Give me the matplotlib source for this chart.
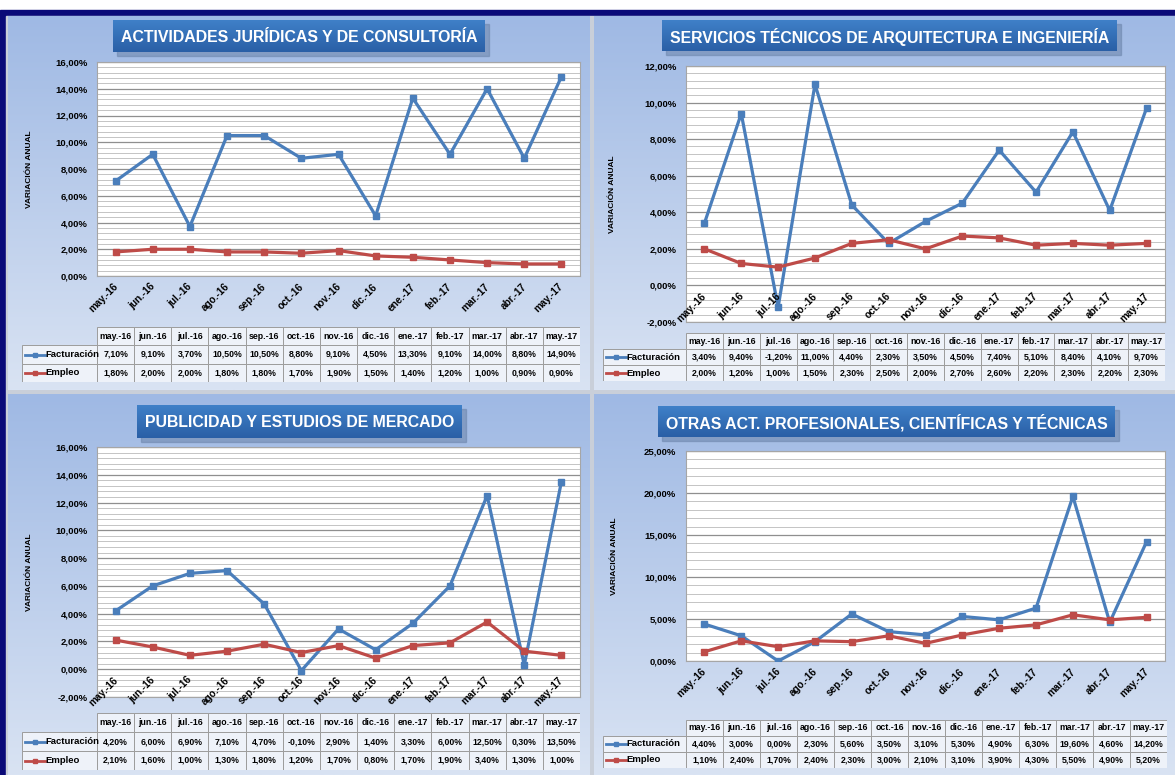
import numpy as np
import matplotlib
matplotlib.use('Agg')
import matplotlib.pyplot as plt
from matplotlib.patches import Rectangle
from matplotlib.lines import Line2D

W, H = 1175, 775

meses = ['may.-16', 'jun.-16', 'jul.-16', 'ago.-16', 'sep.-16', 'oct.-16', 'nov.-16',
         'dic.-16', 'ene.-17', 'feb.-17', 'mar.-17', 'abr.-17', 'may.-17']

jur_fact = [7.1, 9.1, 3.7, 10.5, 10.5, 8.8, 9.1, 4.5, 13.3, 9.1, 14.0, 8.8, 14.9]
jur_emp = [1.8, 2.0, 2.0, 1.8, 1.8, 1.7, 1.9, 1.5, 1.4, 1.2, 1.0, 0.9, 0.9]

arq_fact = [3.4, 9.4, -1.2, 11.0, 4.4, 2.3, 3.5, 4.5, 7.4, 5.1, 8.4, 4.1, 9.7]
arq_emp = [2.0, 1.2, 1.0, 1.5, 2.3, 2.5, 2.0, 2.7, 2.6, 2.2, 2.3, 2.2, 2.3]

pub_fact = [4.2, 6.0, 6.9, 7.1, 4.7, -0.1, 2.9, 1.4, 3.3, 6.0, 12.5, 0.3, 13.5]
pub_emp = [2.1, 1.6, 1.0, 1.3, 1.8, 1.2, 1.7, 0.8, 1.7, 1.9, 3.4, 1.3, 1.0]

otr_fact = [4.4, 3.0, 0.0, 2.3, 5.6, 3.5, 3.1, 5.3, 4.9, 6.3, 19.6, 4.6, 14.2]
otr_emp = [1.1, 2.4, 1.7, 2.4, 2.3, 3.0, 2.1, 3.1, 3.9, 4.3, 5.5, 4.9, 5.2]

titulos = ['ACTIVIDADES JURÍDICAS Y DE CONSULTORÍA',
           'SERVICIOS TÉCNICOS DE ARQUITECTURA E INGENIERÍA',
           'PUBLICIDAD Y ESTUDIOS DE MERCADO',
           'OTRAS ACT. PROFESIONALES, CIENTÍFICAS Y TÉCNICAS']

AZUL = '#4A7EBB'
ROJO = '#BE4B48'
plt.rcParams['font.family'] = ['Liberation Sans', 'DejaVu Sans']

# layout in pixels: panel, plot, table, title box, ylabel x, y range
paneles = [
    dict(panel=(8, 16, 590, 390), plot=(97, 62, 580, 276), tabla=(22, 327, 580, 382),
         caja=(113, 20, 485, 52), ylx=30, ylim=(0, 16), mayor=2, menor=0.4, tfs=11.4),
    dict(panel=(594, 16, 1175, 390), plot=(686, 66, 1165, 322), tabla=(603, 333, 1165, 381),
         caja=(662, 20, 1117, 51), ylx=613, ylim=(-2, 12), mayor=2, menor=0.4, tfs=11.4),
    dict(panel=(8, 394, 590, 775), plot=(97, 447, 580, 697), tabla=(22, 713, 580, 770),
         caja=(137, 405, 462, 438), ylx=30, ylim=(-2, 16), mayor=2, menor=0.4, tfs=11.4),
    dict(panel=(594, 394, 1175, 775), plot=(686, 451, 1165, 661), tabla=(603, 720, 1167, 768),
         caja=(658, 406, 1115, 437), ylx=614, ylim=(0, 25), mayor=5, menor=1, tfs=11.4),
]
series = [(jur_fact, jur_emp), (arq_fact, arq_emp), (pub_fact, pub_emp), (otr_fact, otr_emp)]


def pct(v):
    return f'{v:.2f}%'.replace('.', ',')


def px_axes(x0, y0, x1, y1, **kw):
    return fig.add_axes([x0 / W, 1 - y1 / H, (x1 - x0) / W, (y1 - y0) / H], **kw)


fig = plt.figure(figsize=(W / 100, H / 100), dpi=100)
bg = px_axes(0, 0, W, H)
bg.set_xlim(0, W)
bg.set_ylim(H, 0)
bg.axis('off')

# frame
bg.add_patch(Rectangle((0, 0), W, H, color='white', zorder=0))
bg.add_patch(Rectangle((0, 10), W, H - 10, color='#0A0A78', zorder=0))
bg.add_patch(Rectangle((6, 16), W - 6, H - 16, color='#C9CFD9', zorder=0))

grad = np.linspace(0, 1, 200).reshape(-1, 1)
cmap = matplotlib.colors.LinearSegmentedColormap.from_list('fondo', ['#9FB9E4', '#D9E3F3'])
cmap_caja = matplotlib.colors.LinearSegmentedColormap.from_list('caja', ['#3F80C8', '#2A5FA6'])

for p, (fact, emp), titulo in zip(paneles, series, titulos):
    x0, y0, x1, y1 = p['panel']
    bg.imshow(grad, cmap=cmap, extent=(x0, x1, y1, y0), aspect='auto', zorder=1)

    # title box
    bx0, by0, bx1, by1 = p['caja']
    bg.add_patch(Rectangle((bx0 + 4, by0 + 4), bx1 - bx0, by1 - by0, color='#6F88AE', alpha=0.6, zorder=2))
    bg.imshow(np.linspace(0, 1, 50).reshape(-1, 1), cmap=cmap_caja,
              extent=(bx0, bx1, by1, by0), aspect='auto', zorder=3)
    bg.text((bx0 + bx1) / 2, (by0 + by1) / 2 + 1, titulo, color='white', fontsize=p['tfs'],
            fontweight='bold', ha='center', va='center', zorder=4)

    # y label
    px0, py0, px1, py1 = p['plot']
    bg.text(p['ylx'], (py0 + py1) / 2, 'VARIACIÓN ANUAL', rotation=90, fontsize=6,
            fontweight='bold', ha='center', va='center', zorder=4)

    # chart
    ax = px_axes(px0, py0, px1, py1)
    ax.set_facecolor('white')
    x = np.arange(len(meses))
    lo, hi = p['ylim']
    ax.set_xlim(-0.5, len(meses) - 0.5)
    ax.set_ylim(lo, hi)
    ticks = np.arange(lo, hi + 0.01, p['mayor'])
    ax.set_yticks(ticks)
    ax.set_yticks(np.arange(lo, hi + 0.01, p['menor']), minor=True)
    ax.set_yticklabels([pct(v) for v in ticks], fontsize=6.8, fontweight='bold')
    ax.tick_params(axis='y', which='both', length=0, pad=7)
    ax.set_xticks([])
    ax.grid(axis='y', which='major', color='#8F8F8F', lw=0.9)
    ax.grid(axis='y', which='minor', color='#C4C4C4', lw=0.7)
    ax.set_axisbelow(True)
    for s in ax.spines.values():
        s.set_color('#A6A6A6')
        s.set_linewidth(0.8)
    ax.plot(x, fact, color=AZUL, lw=2.3, marker='s', ms=5, zorder=3)
    ax.plot(x, emp, color=ROJO, lw=2.3, marker='s', ms=5, zorder=3)
    for i, m in enumerate(meses):
        ax.annotate(m, (i, 0), xytext=(3, -4), textcoords='offset points', rotation=45,
                    ha='right', va='top', fontsize=7.2, fontweight='bold',
                    annotation_clip=False, zorder=4)

    # data table
    tx0, ty0, tx1, ty1 = p['tabla']
    cw = (px1 - px0) / len(meses)
    lw_cols = (px0 - tx0) / cw
    ta = px_axes(tx0, ty0, tx1, ty1)
    ta.set_xlim(-0.5 - lw_cols, len(meses) - 0.5)
    ta.set_ylim(3, 0)
    ta.axis('off')
    borde = '#9C9C9C'
    for i, m in enumerate(meses):
        for r in range(3):
            ta.add_patch(Rectangle((i - 0.5, r), 1, 1, fc='#EEF2F9', ec=borde, lw=0.7))
        ta.text(i, 0.5, m, ha='center', va='center', fontsize=6.3, fontweight='bold')
        ta.text(i, 1.5, pct(fact[i]), ha='center', va='center', fontsize=6.3, fontweight='bold')
        ta.text(i, 2.5, pct(emp[i]), ha='center', va='center', fontsize=6.3, fontweight='bold')
    for r, (nombre, col) in enumerate([('Facturación', AZUL), ('Empleo', ROJO)], start=1):
        lx = -0.5 - lw_cols
        ta.add_patch(Rectangle((lx, r), lw_cols, 1, fc='#EEF2F9', ec=borde, lw=0.7))
        ta.add_line(Line2D([lx + 0.08, lx + 0.62], [r + 0.5, r + 0.5], color=col, lw=2))
        ta.plot([lx + 0.35], [r + 0.5], marker='s', ms=3.5, color=col)
        ta.text(lx + 0.64, r + 0.5, nombre, ha='left', va='center', fontsize=6.8,
                fontweight='bold')

fig.savefig('out.png', dpi=100)
